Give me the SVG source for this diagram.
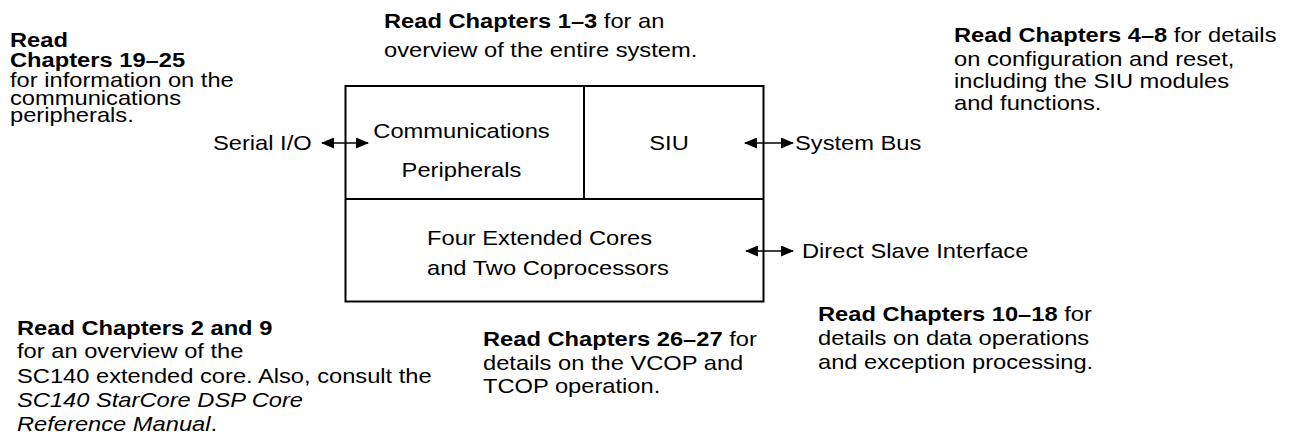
<svg xmlns="http://www.w3.org/2000/svg" width="1290" height="439" viewBox="0 0 1290 439">
  <style>
    text { font-family: "Liberation Sans", Arial, sans-serif; font-size: 20.5px; fill: #000; }
    .b { font-weight: bold; }
    .i { font-style: italic; }
    .mid { text-anchor: middle; }
    .frame { fill: none; stroke: #000; stroke-width: 2; }
    .link { stroke: #000; stroke-width: 1.6; fill: none; marker-start: url(#head); marker-end: url(#head); }
  </style>
  <defs>
    <marker id="head" viewBox="0 0 13 11" refX="12" refY="5.5" markerWidth="13" markerHeight="11" markerUnits="userSpaceOnUse" orient="auto-start-reverse">
      <path d="M0,0 L13,5.5 L0,11 Z" fill="#000"/>
    </marker>
  </defs>

  <!-- chip block -->
  <g id="chip">
    <rect class="frame" x="345.5" y="86" width="418" height="215.5"/>
    <line class="frame" x1="345.5" y1="199" x2="763.5" y2="199"/>
    <line class="frame" x1="584" y1="86" x2="584" y2="199"/>
  </g>

  <!-- all lettering is set slightly wide: each block is anchored by translate, then stretched -->
  <g id="comm-peripherals" transform="translate(461.5,0) scale(1.156,1)">
    <text class="mid" x="0" y="138">Communications</text>
    <text class="mid" x="0" y="177">Peripherals</text>
  </g>

  <g id="siu" transform="translate(669,0) scale(1.156,1)">
    <text class="mid" x="0" y="150">SIU</text>
  </g>

  <g id="cores" transform="translate(427,0) scale(1.156,1)">
    <text x="0" y="245">Four Extended Cores</text>
    <text x="0" y="275">and Two Coprocessors</text>
  </g>

  <!-- external interfaces -->
  <g id="serial-io" transform="translate(213,0) scale(1.156,1)">
    <text x="0" y="150">Serial I/O</text>
  </g>
  <g id="system-bus" transform="translate(795,0) scale(1.156,1)">
    <text x="0" y="150">System Bus</text>
  </g>
  <g id="direct-slave" transform="translate(802,0) scale(1.156,1)">
    <text x="0" y="258">Direct Slave Interface</text>
  </g>

  <g id="connectors">
    <line class="link" x1="322" y1="143" x2="368" y2="143"/>
    <line class="link" x1="745" y1="143" x2="793" y2="143"/>
    <line class="link" x1="746" y1="251" x2="793" y2="251"/>
  </g>

  <!-- reading guide notes -->
  <g id="note-overview" transform="translate(384,0) scale(1.156,1)">
    <text x="0" y="28"><tspan class="b">Read Chapters 1–3</tspan> for an</text>
    <text x="0" y="57">overview of the entire system.</text>
  </g>

  <g id="note-comms" transform="translate(10,0) scale(1.156,1)">
    <text x="0" y="47" class="b">Read</text>
    <text x="0" y="67" class="b">Chapters 19–25</text>
    <text x="0" y="87">for information on the</text>
    <text x="0" y="105">communications</text>
    <text x="0" y="122">peripherals.</text>
  </g>

  <g id="note-siu" transform="translate(954,0) scale(1.156,1)">
    <text x="0" y="42"><tspan class="b">Read Chapters 4–8</tspan> for details</text>
    <text x="0" y="66">on configuration and reset,</text>
    <text x="0" y="88">including the SIU modules</text>
    <text x="0" y="110">and functions.</text>
  </g>

  <g id="note-core" transform="translate(17,0) scale(1.156,1)">
    <text x="0" y="335" class="b">Read Chapters 2 and 9</text>
    <text x="0" y="358">for an overview of the</text>
    <text x="0" y="383">SC140 extended core. Also, consult the</text>
    <text x="0" y="407" class="i">SC140 StarCore DSP Core</text>
    <text x="0" y="431"><tspan class="i">Reference Manual</tspan>.</text>
  </g>

  <g id="note-coproc" transform="translate(483,0) scale(1.156,1)">
    <text x="0" y="346"><tspan class="b">Read Chapters 26–27</tspan> for</text>
    <text x="0" y="370">details on the VCOP and</text>
    <text x="0" y="393">TCOP operation.</text>
  </g>

  <g id="note-data" transform="translate(818,0) scale(1.156,1)">
    <text x="0" y="321"><tspan class="b">Read Chapters 10–18</tspan> for</text>
    <text x="0" y="345">details on data operations</text>
    <text x="0" y="369">and exception processing.</text>
  </g>
</svg>
